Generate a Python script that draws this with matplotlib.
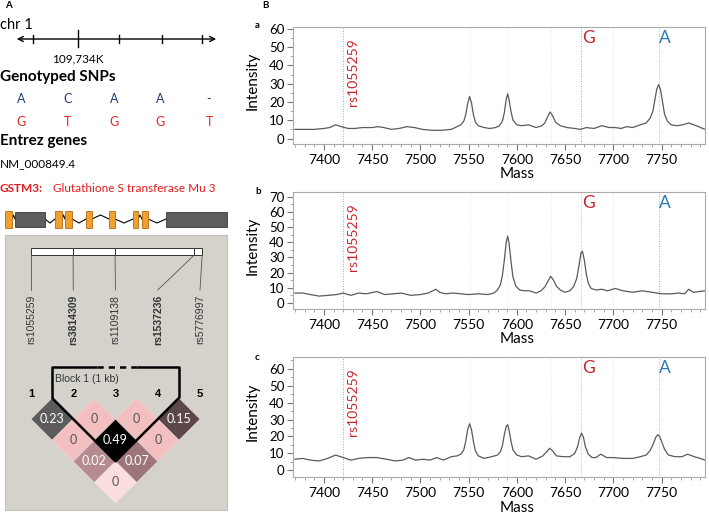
import matplotlib
matplotlib.use("Agg")
import matplotlib.pyplot as plt
import matplotlib.transforms as mtransforms
from matplotlib.patches import Rectangle, Polygon
from matplotlib.ticker import MultipleLocator

plt.rcParams["font.family"] = ["Lato", "DejaVu Sans"]

# %% data -- panel A
chr_ticks = [33, 78, 119, 162, 202]
chr_major = 78
chr_label = "109,734K"
snp_x = [21, 68, 114, 160, 209]
allele_1 = ["A", "C", "A", "A", "-"]
allele_2 = ["G", "T", "G", "G", "T"]

# gene model (pixel extents on the drawing)
utr_boxes = [(15, 45), (166, 227)]
exons = [(5, 12), (55, 62), (65, 72), (86, 92), (109, 115), (133, 138), (142, 148)]

# LD plot
markers = ["rs1055259", "rs3814309", "rs1109138", "rs1537236", "rs5776997"]
marker_bold = [False, True, False, True, False]
marker_frac = [0.0, 0.246, 0.491, 0.953, 1.0]
block = (2, 4)
ld_pairs = [(1, 2), (2, 3), (3, 4), (4, 5), (1, 3), (2, 4), (3, 5), (1, 4), (2, 5), (1, 5)]
ld_values = [0.23, 0, 0, 0.15, 0, 0.49, 0, 0.02, 0.07, 0]
ld_colors = ["#5c5c5c", "#f4bfc0", "#f4bfc0", "#5e474a", "#f4bfc0",
             "#000000", "#f4bfc0", "#b58c8f", "#9c7679", "#fbdede"]

# %% data -- panel B spectra (mass, intensity)
spec_a = [(7370, 5), (7380, 5), (7390, 5), (7400, 5.5), (7406, 6), (7412, 7.5),
          (7418, 6.5), (7425, 5.5), (7432, 5.5), (7440, 6), (7450, 6), (7456, 6.5),
          (7462, 6), (7470, 5), (7478, 5.5), (7486, 6.5), (7494, 6), (7502, 5),
          (7512, 4.5), (7522, 4.5), (7532, 5), (7538, 6.5), (7542, 7.5), (7545, 9.5),
          (7547, 13), (7549, 19), (7551, 23), (7553, 19.5), (7555, 13), (7557, 9),
          (7560, 7), (7566, 6), (7572, 5.5), (7578, 6), (7582, 7), (7585, 9.5),
          (7587, 14), (7589, 21.5), (7590.5, 24.5), (7592, 21), (7594, 14.5), (7596, 10),
          (7600, 7.5), (7605, 7), (7612, 7.5), (7620, 6), (7626, 7), (7629, 8.5),
          (7632, 12), (7634.5, 14.5), (7637, 12.5), (7640, 9), (7645, 7), (7652, 6),
          (7660, 5.5), (7666, 5), (7672, 6), (7680, 5.5), (7688, 7), (7696, 6),
          (7702, 6), (7708, 5.5), (7714, 6.5), (7720, 6), (7728, 7.5), (7734, 8.5),
          (7738, 11), (7741, 15), (7743, 21), (7745, 27), (7747, 29.5), (7749, 26.5),
          (7751, 20), (7753, 13.5), (7756, 9.5), (7760, 7.5), (7766, 7), (7772, 7.5),
          (7778, 8.5), (7786, 7), (7795, 5)]

spec_b = [(7370, 6.5), (7378, 6.5), (7386, 5.5), (7395, 4.5), (7405, 5), (7413, 5.5),
          (7420, 6.5), (7428, 5), (7436, 6.5), (7444, 6), (7455, 7.5), (7463, 5.5),
          (7472, 6), (7480, 6.5), (7490, 5), (7500, 5.5), (7508, 6.5), (7513, 8),
          (7516, 9), (7520, 7), (7526, 6), (7534, 6.5), (7542, 6), (7550, 5.5),
          (7560, 6), (7570, 5.5), (7576, 6.5), (7580, 8.5), (7583, 12), (7585, 18),
          (7587, 28), (7589, 40), (7590.5, 44), (7592, 39), (7594, 27), (7596, 17),
          (7599, 11), (7603, 8.5), (7608, 8), (7613, 8), (7620, 6.5), (7625, 8),
          (7629, 10.5), (7632, 14), (7635, 17.5), (7638, 15), (7641, 11), (7645, 8.5),
          (7650, 7), (7655, 8), (7659, 11), (7662, 16), (7664.5, 25), (7666.5, 33),
          (7668, 34), (7670, 28), (7672, 19), (7674, 13), (7677, 9.5), (7682, 8.5),
          (7688, 9), (7694, 8), (7702, 9.5), (7710, 8), (7720, 7), (7730, 8),
          (7740, 7), (7750, 6), (7760, 6), (7768, 6.5), (7774, 6), (7778, 9),
          (7783, 7), (7789, 7.5), (7795, 8)]

spec_c = [(7370, 6.5), (7378, 7), (7386, 6), (7395, 5.5), (7404, 7), (7412, 9),
          (7420, 7.5), (7428, 6), (7436, 7), (7445, 7.5), (7455, 7.5), (7465, 6.5),
          (7474, 5.5), (7482, 6), (7488, 7.5), (7495, 6), (7503, 6.5), (7510, 6),
          (7517, 7.5), (7524, 6), (7532, 8), (7538, 8.5), (7542, 9.5), (7545, 12),
          (7547, 17), (7549, 24), (7551, 27.5), (7553, 24), (7555, 17), (7557, 11.5),
          (7560, 8.5), (7566, 7), (7574, 8), (7580, 9), (7583, 11), (7585, 14.5),
          (7587, 21), (7589, 26), (7590.5, 27), (7592, 23.5), (7594, 17), (7596, 12),
          (7600, 9), (7605, 8), (7612, 8.5), (7620, 6.5), (7627, 8.5), (7631, 11),
          (7634, 13), (7637, 11.5), (7641, 8.5), (7648, 8), (7655, 8), (7660, 10),
          (7663, 14), (7665, 19), (7667, 22), (7669, 19.5), (7671, 14), (7674, 9.5),
          (7678, 7.5), (7682, 7.5), (7687, 9.5), (7693, 7.5), (7700, 7.5), (7710, 7),
          (7720, 7), (7728, 8), (7734, 9), (7738, 11.5), (7741, 15), (7744, 19.5),
          (7746, 21), (7748, 20), (7750, 17), (7753, 12.5), (7757, 9), (7764, 8),
          (7771, 8), (7777, 9.5), (7784, 8), (7790, 7), (7795, 6)]

ref_masses = [7551, 7590, 7635, 7700]
rs_mass = 7420
g_mass = 7667
a_mass = 7747

RED = "#c8262d"
BLUE = "#2e78b8"
LINE_RED = "#e06a6a"
LINE_BLUE = "#7fb3de"

fig = plt.figure(figsize=(7.09, 5.14), dpi=100)


def px_axes(x0, y0, x1, y1):
    return fig.add_axes([x0 / 709, 1 - y1 / 514, (x1 - x0) / 709, (y1 - y0) / 514])


# %% panel A canvas (pixel coordinates)
ax0 = fig.add_axes([0, 0, 1, 1])
ax0.set_xlim(0, 709)
ax0.set_ylim(514, 0)
ax0.axis("off")

ax0.text(5, 6, "A", fontsize=7, fontweight="bold", va="center")
ax0.text(262, 6, "B", fontsize=7, fontweight="bold", va="center")
ax0.text(0, 25, "chr 1", fontsize=10.5, va="center")

ax0.annotate("", xy=(219, 39), xytext=(14, 39),
             arrowprops=dict(arrowstyle="<->", lw=1, color="black", mutation_scale=9))
for t in chr_ticks:
    if t == chr_major:
        ax0.plot([t, t], [30, 47], color="black", lw=1)
    else:
        ax0.plot([t, t], [35, 43], color="black", lw=1)
ax0.text(chr_major, 59, chr_label, fontsize=8.5, ha="center", va="center")

ax0.text(0, 77, "Genotyped SNPs", fontsize=11, fontweight="bold", va="center")
for x, a1, a2 in zip(snp_x, allele_1, allele_2):
    ax0.text(x, 99, a1, fontsize=9, color="#1f3a7a", ha="center", va="center")
    ax0.text(x, 122, a2, fontsize=9, color="#e0242b", ha="center", va="center")

ax0.text(0, 141, "Entrez genes", fontsize=11, fontweight="bold", va="center")
ax0.text(0, 164, "NM_000849.4", fontsize=8.5, va="center")
ax0.text(0, 189, "GSTM3:", fontsize=8.5, fontweight="bold", color="#e31a1c", va="center")
ax0.text(53, 189, "Glutathione S transferase Mu 3", fontsize=8.5, color="#e31a1c", va="center")

# gene model
gy = 219
feats = sorted([(s, e, "utr") for s, e in utr_boxes] + [(s, e, "exon") for s, e in exons])
for k in range(len(feats) - 1):
    x1 = feats[k][1]
    x2 = feats[k + 1][0]
    dy = 4 if k % 2 else -4
    ax0.plot([x1, (x1 + x2) / 2, x2], [gy, gy + dy, gy], color="black", lw=0.8)
for s, e, kind in feats:
    if kind == "utr":
        ax0.add_patch(Rectangle((s, gy - 7.5), e - s, 15, facecolor="#5d5d5d",
                                edgecolor="#3a3a3a", lw=0.6, zorder=3))
    else:
        ax0.add_patch(Rectangle((s, gy - 8.5), e - s, 17, facecolor="#f0a030",
                                edgecolor="#b86a10", lw=0.6, zorder=4))

# %% LD plot (marker units, 1 unit = 42.25 px)
ax_ld = px_axes(5, 235, 227, 510)
ax_ld.set_xlim(0.3846, 5.639)
ax_ld.set_ylim(2.651, -3.858)
ax_ld.set_facecolor("#d5d2cc")
ax_ld.set_xticks([])
ax_ld.set_yticks([])
for sp in ax_ld.spines.values():
    sp.set_color("#c4c1bb")

n = len(markers)
bar_x = [1 + f * 4.05 for f in marker_frac]
ax_ld.add_patch(Rectangle((bar_x[0], -3.55), bar_x[-1] - bar_x[0], 0.17,
                          facecolor="white", edgecolor="#333333", lw=0.7))
for i in range(n):
    if 0 < i < n - 1:
        ax_ld.plot([bar_x[i], bar_x[i]], [-3.55, -3.38], color="#333333", lw=0.7)
    ax_ld.plot([bar_x[i], i + 1], [-3.38, -2.556], color="#555555", lw=0.6)
    ax_ld.text(i + 1, -2.44, markers[i], rotation=90, ha="center", va="top",
               fontsize=7.5, family="Liberation Sans",
               fontweight="bold" if marker_bold[i] else "normal", color="#333333")
    ax_ld.text(i + 1, -0.095, str(i + 1), ha="center", va="center",
               fontsize=8, fontweight="bold", family="Liberation Sans")

for (i, j), v, c in zip(ld_pairs, ld_values, ld_colors):
    cx = (i + j) / 2
    cy = (j - i) / 2
    ax_ld.add_patch(Polygon([(cx, cy - 0.5), (cx + 0.5, cy), (cx, cy + 0.5), (cx - 0.5, cy)],
                            closed=True, facecolor=c, edgecolor="#e8d8d8", lw=0.4))
    txt = "0" if v == 0 else f"{v:.2f}"
    tc = "#555555" if c in ("#f4bfc0", "#fbdede") else "white"
    ax_ld.text(cx, cy, txt, ha="center", va="center", fontsize=9, color=tc)

# block outline
b0, b1 = block[0] - 0.5, block[1] + 0.5
bot = (b0 + b1) / 2
top = -0.73
kw = dict(color="black", lw=1.8, solid_capstyle="butt")
ax_ld.plot([b0, b0, 2.56], [0, top, top], **kw)
ax_ld.plot([3.5, b1, b1], [top, top, 0], **kw)
ax_ld.plot([2.56, 3.5], [top, top], color="black", lw=1.8, ls=(0, (2.5, 2)))
ax_ld.plot([b0, bot, b1], [0, bot - b0, 0], **kw)
ax_ld.text(1.57, -0.45, "Block 1 (1 kb)", fontsize=7.5, family="Liberation Sans",
           color="#333333", va="center")


# %% panel B spectra
def spectrum(ax, spec, ylim, ymax_tick, g_col, a_col):
    mass = [m for m, _ in spec]
    inten = [v for _, v in spec]
    dot = (0, (1, 2))
    for m in ref_masses:
        ax.axvline(m, color="#d6dde6", lw=0.6, ls=dot)
    ax.axvline(rs_mass, color=LINE_RED, lw=0.6, ls=dot)
    ax.axvline(g_mass, color=g_col, lw=0.6, ls=dot)
    ax.axvline(a_mass, color=a_col, lw=0.6, ls=dot)
    ax.plot(mass, inten, color="#5a5a5a", lw=0.9)
    ax.set_xlim(7368, 7795)
    ax.set_ylim(*ylim)
    ax.set_xticks([7400, 7450, 7500, 7550, 7600, 7650, 7700, 7750])
    ax.set_yticks(range(0, ymax_tick + 1, 10))
    ax.xaxis.set_minor_locator(MultipleLocator(10))
    ax.yaxis.set_minor_locator(MultipleLocator(5))
    ax.tick_params(which="major", length=4, color="#777777", width=0.8)
    ax.tick_params(which="minor", length=2.5, color="#999999", width=0.6)
    ax.tick_params(axis="x", labelsize=10, pad=3)
    ax.tick_params(axis="y", labelsize=9.5, pad=2)
    for sp in ax.spines.values():
        sp.set_color("#aaaaaa")
    ax.set_ylabel("Intensity", fontsize=11)
    ax.yaxis.set_label_coords(-0.08, 0.54)
    ax.set_xlabel("Mass", fontsize=11)
    ax.xaxis.set_label_coords((517 - 293) / 412, -0.2)
    tr = mtransforms.blended_transform_factory(ax.transData, ax.transAxes)
    ax.text(7430, 0.905, "rs1055259", rotation=90, ha="center", va="top",
            fontsize=10, color=RED, transform=tr)
    ax.text(g_mass + 7, 0.91, "G", ha="center", va="center", fontsize=12.5,
            color=RED, transform=tr)
    ax.text(a_mass + 6.5, 0.91, "A", ha="center", va="center", fontsize=12.5,
            color=BLUE, transform=tr)


ax_a = px_axes(293, 27, 705, 144)
spectrum(ax_a, spec_a, (-3, 61), 60, LINE_RED, LINE_BLUE)
ax_b = px_axes(293, 192, 705, 309)
spectrum(ax_b, spec_b, (-4, 73), 70, LINE_BLUE, LINE_RED)
ax_c = px_axes(293, 357, 705, 477)
spectrum(ax_c, spec_c, (-4, 67), 60, LINE_BLUE, LINE_BLUE)

for lab, y in zip(["a", "b", "c"], [25, 191, 357]):
    ax0.text(255, y, lab, fontsize=7, fontweight="bold", va="center")

fig.savefig("out.png", dpi=100)
